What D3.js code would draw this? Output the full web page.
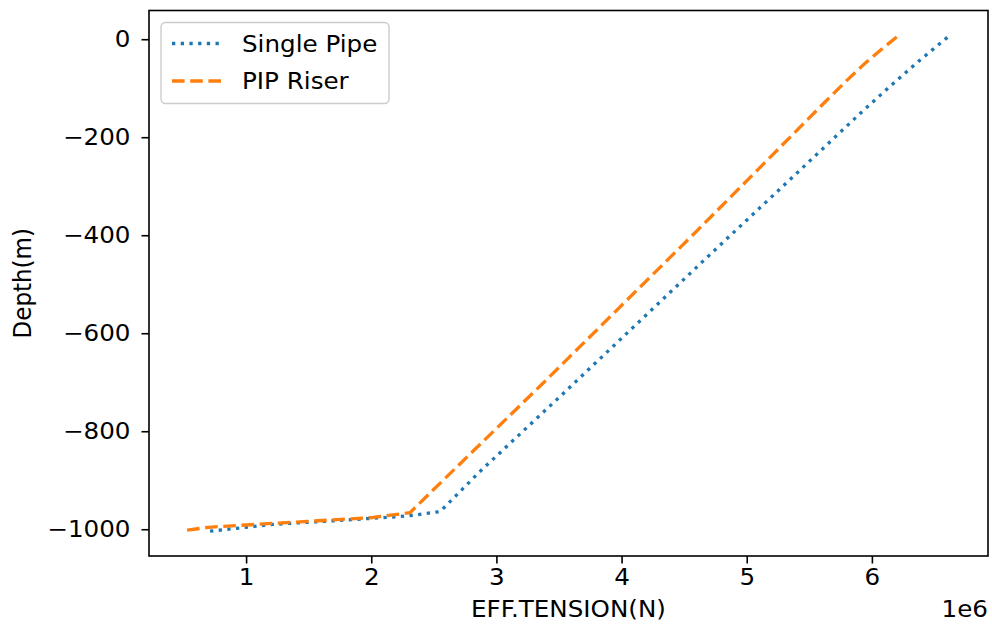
<!DOCTYPE html>
<html>
<head>
<meta charset="utf-8">
<script src="https://cdn.jsdelivr.net/npm/d3@7"></script>
<style>
  html, body { margin: 0; padding: 0; background: #fff; }
  svg { display: block; }
  text { font-family: "DejaVu Sans", sans-serif; fill: #000; }
</style>
</head>
<body>
<svg id="chart" width="992" height="635"></svg>
<script>
// ---- data (tension in N, depth in m) ----
const seriesNames = ["Single Pipe", "PIP Riser"];
const singleTension = [712000, 1216000, 1751000, 2286000, 2550000, 2869000, 3484000, 3931000, 4746000, 5385000, 5904000, 6150000, 6383000, 6623000];
const singleDepth   = [-1004, -990, -982, -973, -964, -882, -735, -627, -430, -277, -152, -95, -43, 8];
const pipTension    = [529000, 700000, 952000, 1487000, 2014000, 2310000, 2494000, 3372000, 3827000, 4626000, 5105000, 5638000, 5800000, 5950000, 6080000, 6205000];
const pipDepth      = [-1002, -996, -992, -984, -976, -966, -920, -702, -587, -385, -262, -125, -84, -48, -20, 6];
const xTicks = [1e6, 2e6, 3e6, 4e6, 5e6, 6e6];
const yTicks = [0, -200, -400, -600, -800, -1000];
const xLabel = "EFF.TENSION(N)";
const yLabel = "Depth(m)";
const xOffsetText = "1e6";

const colors = ["#1f77b4", "#ff7f0e"];
const dashes = ["3.3,5.4", "12.6,5.6"];

const svg = d3.select("#chart");
const L = 149, R = 988, T = 10.5, B = 556;
const FS = 23;
const SX = 1.07; // horizontal text stretch seen in the reference

function padExtent(arr) {
  const [a, b] = d3.extent(arr);
  const m = (b - a) * 0.05;
  return [a - m, b + m];
}
const allX = singleTension.concat(pipTension);
const allY = singleDepth.concat(pipDepth);
const x = d3.scaleLinear().domain(padExtent(allX)).range([L, R]);
const y = d3.scaleLinear().domain(padExtent(allY)).range([B, T]);

const series = [
  { name: seriesNames[0], xs: singleTension, ys: singleDepth },
  { name: seriesNames[1], xs: pipTension, ys: pipDepth }
];

function addText(parent, px, py, str, anchor) {
  const g = parent.append("g")
    .attr("transform", `translate(${px},${py}) scale(${SX},1)`);
  return g.append("text").attr("text-anchor", anchor).attr("font-size", FS).text(str);
}

// clip
svg.append("defs").append("clipPath").attr("id", "clip")
  .append("rect").attr("x", L).attr("y", T).attr("width", R - L).attr("height", B - T);

const line = d3.line().x(d => x(d[0])).y(d => y(d[1]));
series.forEach((s, i) => {
  const pts = s.xs.map((v, k) => [v, s.ys[k]]);
  svg.append("path")
    .attr("clip-path", "url(#clip)")
    .attr("d", line(pts))
    .attr("fill", "none")
    .attr("stroke", colors[i])
    .attr("stroke-width", 3.3)
    .attr("stroke-dasharray", dashes[i])
    .attr("stroke-linejoin", "round");
});

// axes
const xAxis = d3.axisBottom(x).tickValues(xTicks).tickFormat(d => d3.format("d")(d / 1e6))
  .tickSize(7.5).tickPadding(5);
const gx = svg.append("g").attr("transform", `translate(0,${B})`).call(xAxis);
gx.select(".domain").remove();
gx.selectAll("line").attr("stroke", "#000").attr("stroke-width", 1.6);
gx.selectAll("text").attr("font-size", FS).attr("font-family", "DejaVu Sans").attr("fill", "#000")
  .attr("transform", `scale(${SX},1)`);

const yAxis = d3.axisLeft(y).tickValues(yTicks).tickFormat(d3.format("d"))
  .tickSize(7.5).tickPadding(11);
const gy = svg.append("g").attr("transform", `translate(${L},0)`).call(yAxis);
gy.select(".domain").remove();
gy.selectAll("line").attr("stroke", "#000").attr("stroke-width", 1.6);
gy.selectAll("text").attr("font-size", FS).attr("font-family", "DejaVu Sans").attr("fill", "#000")
  .attr("x", -18.5 / SX).attr("transform", `scale(${SX},1)`);

// frame
svg.append("rect").attr("x", L).attr("y", T).attr("width", R - L).attr("height", B - T)
  .attr("fill", "none").attr("stroke", "#000").attr("stroke-width", 1.6);

// labels
addText(svg, (L + R) / 2, 617, xLabel, "middle");
addText(svg, R, 617, xOffsetText, "end");
svg.append("g").attr("transform", `translate(31,${(T + B) / 2}) rotate(-90) scale(1,${SX})`)
  .append("text").attr("text-anchor", "middle").attr("font-size", FS).text(yLabel);

// legend
const lg = svg.append("g");
lg.append("rect").attr("x", 161).attr("y", 22.5).attr("width", 228).attr("height", 81)
  .attr("rx", 4.5).attr("fill", "#fff").attr("fill-opacity", 0.8)
  .attr("stroke", "#cccccc").attr("stroke-width", 1.4);
const rowY = [43.5, 81];
series.forEach((s, i) => {
  lg.append("line").attr("x1", 172).attr("x2", 222).attr("y1", rowY[i]).attr("y2", rowY[i])
    .attr("stroke", colors[i]).attr("stroke-width", 3.3).attr("stroke-dasharray", dashes[i]);
  addText(lg, 242, rowY[i], s.name, "start").attr("dy", "0.36em");
});
</script>
</body>
</html>
